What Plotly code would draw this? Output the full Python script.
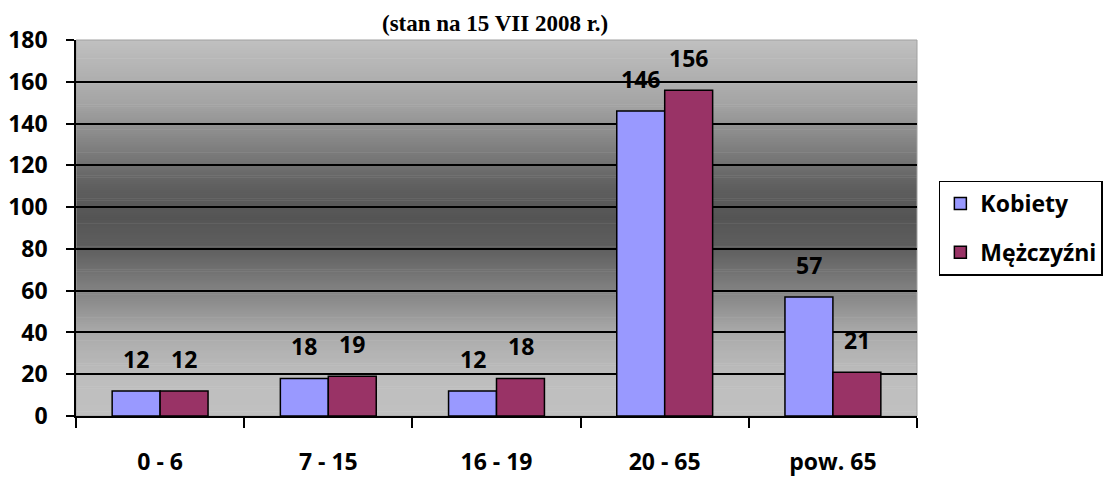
import plotly.graph_objects as go

categories = ["0 - 6", "7 - 15", "16 - 19", "20 - 65", "pow. 65"]
kobiety = [12, 18, 12, 146, 57]
mezczyzni = [12, 19, 18, 156, 21]
y_ticks = [0, 20, 40, 60, 80, 100, 120, 140, 160, 180]

FONT = "Open Sans"
FS = 23
bold = lambda s: f"<b>{s}</b>"

fig = go.Figure()
fig.add_trace(go.Bar(name=bold("Kobiety"), x=[bold(c) for c in categories], y=kobiety, legendgroup="k",
                     marker=dict(color="#9999FF", line=dict(color="black", width=1.5))))
fig.add_trace(go.Bar(name=bold("Mężczyźni"), x=[bold(c) for c in categories], y=mezczyzni, legendgroup="m",
                     marker=dict(color="#993366", line=dict(color="black", width=1.5))))

# value labels
for vals, dx in ((kobiety, -24), (mezczyzni, 24)):
    for c, v in zip(categories, vals):
        fig.add_annotation(x=bold(c), y=v, text=bold(v), showarrow=False, xshift=dx, yshift=32,
                           font=dict(family=FONT, size=FS, color="black"))

# gradient background stripes
def gray_at(v):
    pts = [(0, 192), (18, 190), (40, 170), (60, 130), (80, 95), (95, 85), (110, 95),
           (130, 130), (150, 165), (180, 192)]
    for (a, ga), (b, gb) in zip(pts, pts[1:]):
        if a <= v <= b:
            return ga + (gb - ga) * (v - a) / (b - a)
    return 192

step = 1.0
v = 0.0
while v < 180:
    g = int(round(gray_at(v + step / 2)))
    fig.add_shape(type="rect", xref="paper", yref="y", x0=0, x1=1, y0=v, y1=min(v + step + 0.3, 180),
                  fillcolor=f"rgb({g},{g},{g})", line=dict(width=0), layer="below")
    v += step

fig.add_shape(type="rect", xref="paper", yref="paper", x0=0, x1=1, y0=0, y1=1,
              line=dict(color="#a0a0a0", width=1), layer="below")

fig.add_annotation(text="<b>(stan na 15 VII 2008 r.)</b>", xref="paper", yref="paper",
                   x=(487 - 68) / 841, y=1 + (32 - 16) / 376, xanchor="center", yanchor="middle",
                   showarrow=False, font=dict(family="Liberation Serif", size=23, color="black"))

fig.update_layout(
    width=1111, height=479,
    margin=dict(l=68, r=202, t=32, b=71, autoexpand=False),
    paper_bgcolor="white", plot_bgcolor="rgba(0,0,0,0)",
    barmode="group", bargap=0.43, bargroupgap=0,
    legend=dict(x=1.026, xanchor="left", y=0.5, yanchor="middle",
                bgcolor="white", bordercolor="black", borderwidth=1.5,
                font=dict(family=FONT, size=FS, color="black"),
                tracegroupgap=16, itemwidth=30),
    font=dict(family=FONT, color="black"),
    xaxis=dict(showgrid=False, showline=True, linecolor="black", linewidth=1.5, automargin=False,
               ticks="outside", tickson="boundaries", ticklen=10, tickwidth=1.5, tickcolor="black",
               tickfont=dict(family=FONT, size=FS, color="black"),
               ticklabelstandoff=25),
    yaxis=dict(range=[0, 180], tickvals=y_ticks, ticktext=[bold(t) for t in y_ticks],
               showgrid=True, gridcolor="black", gridwidth=1.5, automargin=False,
               showline=True, linecolor="black", linewidth=1.5, zeroline=False,
               ticks="outside", ticklen=8, tickwidth=1.5, tickcolor="black",
               ticklabelstandoff=14,
               tickfont=dict(family=FONT, size=FS, color="black")),
)

fig.write_html("out.html")
